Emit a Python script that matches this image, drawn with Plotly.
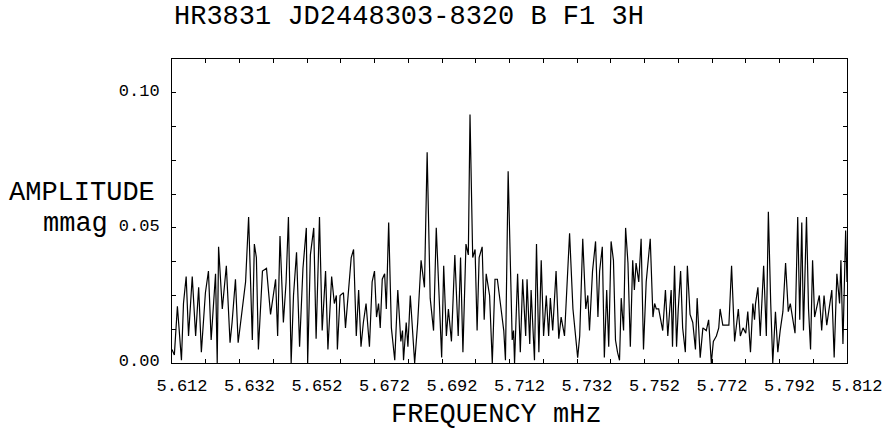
import plotly.graph_objects as go

# Frequency (mHz) and amplitude (mmag)
freq = [
    5.6120, 5.6127, 5.6136, 5.6148, 5.6154, 5.6162, 5.6169, 5.6180, 5.6190, 5.6199,
    5.6207, 5.6219, 5.6228, 5.6236, 5.6249, 5.6254, 5.6258, 5.6269, 5.6281, 5.6292,
    5.6298, 5.6308, 5.6316, 5.6326, 5.6338, 5.6347, 5.6358, 5.6364, 5.6370, 5.6376,
    5.6388, 5.6400, 5.6412, 5.6427, 5.6433, 5.6440, 5.6450, 5.6458, 5.6465, 5.6473,
    5.6480, 5.6489, 5.6498, 5.6508, 5.6518, 5.6522, 5.6530, 5.6540, 5.6547, 5.6557,
    5.6565, 5.6575, 5.6582, 5.6593, 5.6601, 5.6607, 5.6610, 5.6618, 5.6628, 5.6634,
    5.6651, 5.6658, 5.6666, 5.6673, 5.6680, 5.6687, 5.6695, 5.6705, 5.6713, 5.6720,
    5.6726, 5.6732, 5.6737, 5.6743, 5.6750, 5.6755, 5.6762, 5.6770, 5.6780, 5.6789,
    5.6798, 5.6803, 5.6806, 5.6814, 5.6819, 5.6826, 5.6839, 5.6848, 5.6858, 5.6868,
    5.6876, 5.6885, 5.6895, 5.6903, 5.6913, 5.6919, 5.6925, 5.6933, 5.6939, 5.6948,
    5.6958, 5.6968, 5.6975, 5.6982, 5.6991, 5.6998, 5.7003, 5.7011, 5.7018, 5.7024,
    5.7030, 5.7039, 5.7045, 5.7051, 5.7061, 5.7069, 5.7077, 5.7084, 5.7093, 5.7103,
    5.7108, 5.7116, 5.7128, 5.7132, 5.7135, 5.7144, 5.7152, 5.7159, 5.7168, 5.7172,
    5.7180, 5.7184, 5.7194, 5.7200, 5.7207, 5.7214, 5.7221, 5.7229, 5.7236, 5.7241,
    5.7248, 5.7258, 5.7266, 5.7273, 5.7283, 5.7298, 5.7308, 5.7316, 5.7322, 5.7328,
    5.7337, 5.7346, 5.7352, 5.7357, 5.7366, 5.7375, 5.7382, 5.7387, 5.7395, 5.7401,
    5.7408, 5.7414, 5.7421, 5.7428, 5.7434, 5.7440, 5.7446, 5.7451, 5.7458, 5.7464,
    5.7471, 5.7478, 5.7485, 5.7490, 5.7495, 5.7503, 5.7510, 5.7517, 5.7525, 5.7537,
    5.7545, 5.7550, 5.7555, 5.7562, 5.7574, 5.7582, 5.7589, 5.7599, 5.7603, 5.7609,
    5.7615, 5.7620, 5.7627, 5.7633, 5.7641, 5.7647, 5.7655, 5.7663, 5.7671, 5.7676,
    5.7685, 5.7693, 5.7703, 5.7710, 5.7718, 5.7724, 5.7733, 5.7740, 5.7744, 5.7752,
    5.7762, 5.7770, 5.7778, 5.7787, 5.7798, 5.7804, 5.7812, 5.7820, 5.7826, 5.7834,
    5.7841, 5.7846, 5.7849, 5.7856, 5.7863, 5.7873, 5.7881, 5.7887, 5.7894, 5.7900,
    5.7908, 5.7915, 5.7922, 5.7930, 5.7938, 5.7946, 5.7952, 5.7960, 5.7966, 5.7974,
    5.7980, 5.7986, 5.7991, 5.8000, 5.8006, 5.8012, 5.8018, 5.8024, 5.8030, 5.8038,
    5.8045, 5.8052, 5.8060, 5.8068, 5.8075, 5.8082, 5.8090, 5.8098, 5.8102, 5.8108,
    5.8116, 5.8120,
]
amplitude = [
    0.005, 0.003, 0.021, 0.001, 0.022, 0.032, 0.010, 0.032, 0.010, 0.028,
    0.004, 0.026, 0.034, 0.0085, 0.033, 0.000, 0.043, 0.020, 0.036, 0.0075,
    0.015, 0.031, 0.0075, 0.018, 0.030, 0.054, 0.0085, 0.044, 0.039, 0.005,
    0.034, 0.035, 0.018, 0.031, 0.010, 0.047, 0.015, 0.030, 0.054, 0.000,
    0.025, 0.041, 0.006, 0.035, 0.050, 0.000, 0.040, 0.050, 0.009, 0.054,
    0.012, 0.034, 0.005, 0.032, 0.022, 0.025, 0.005, 0.025, 0.026, 0.013,
    0.039, 0.042, 0.010, 0.027, 0.006, 0.015, 0.022, 0.006, 0.030, 0.034,
    0.017, 0.022, 0.013, 0.031, 0.033, 0.020, 0.052, 0.013, 0.001, 0.027,
    0.008, 0.012, 0.001, 0.015, 0.006, 0.025, 0.000, 0.015, 0.038, 0.028,
    0.078, 0.024, 0.012, 0.050, 0.020, 0.002, 0.036, 0.010, 0.020, 0.008,
    0.040, 0.010, 0.039, 0.004, 0.044, 0.040, 0.092, 0.039, 0.042, 0.012,
    0.039, 0.043, 0.016, 0.033, 0.025, 0.000, 0.031, 0.031, 0.022, 0.012,
    0.001, 0.071, 0.0085, 0.012, 0.000, 0.033, 0.004, 0.031, 0.010, 0.031,
    0.007, 0.027, 0.001, 0.044, 0.004, 0.038, 0.010, 0.025, 0.010, 0.024,
    0.012, 0.034, 0.009, 0.017, 0.010, 0.048, 0.020, 0.010, 0.002, 0.010,
    0.046, 0.020, 0.025, 0.012, 0.034, 0.045, 0.017, 0.034, 0.043, 0.002,
    0.027, 0.006, 0.045, 0.038, 0.0085, 0.004, 0.001, 0.024, 0.012, 0.050,
    0.037, 0.006, 0.038, 0.027, 0.037, 0.030, 0.046, 0.005, 0.030, 0.046,
    0.017, 0.022, 0.020, 0.020, 0.012, 0.027, 0.010, 0.027, 0.006, 0.036,
    0.006, 0.020, 0.034, 0.013, 0.004, 0.036, 0.018, 0.015, 0.005, 0.024,
    0.002, 0.013, 0.012, 0.016, 0.000, 0.008, 0.010, 0.013, 0.020, 0.014,
    0.014, 0.014, 0.036, 0.008, 0.020, 0.010, 0.013, 0.011, 0.019, 0.004,
    0.022, 0.016, 0.022, 0.028, 0.010, 0.036, 0.010, 0.056, 0.022, 0.000,
    0.019, 0.004, 0.012, 0.019, 0.037, 0.019, 0.022, 0.016, 0.011, 0.054,
    0.016, 0.052, 0.012, 0.054, 0.020, 0.005, 0.038, 0.017, 0.021, 0.025,
    0.012, 0.025, 0.014, 0.022, 0.027, 0.002, 0.033, 0.022, 0.038, 0.007,
    0.049, 0.030,
]

x_tick_vals = [5.612, 5.632, 5.652, 5.672, 5.692, 5.712, 5.732, 5.752, 5.772, 5.792, 5.812]
x_tick_text = ["5.612", "5.632", "5.652", "5.672", "5.692", "5.712", "5.732", "5.752", "5.772", "5.792", "5.812"]
y_tick_vals = [0.0, 0.05, 0.10]
y_tick_text = ["0.00", "0.05", "0.10"]

title_text = "HR3831 JD2448303-8320 B F1 3H"
y_title_1 = "AMPLITUDE"
y_title_2 = "mmag"
x_title = "FREQUENCY mHz"

FONT = "Liberation Mono"
BIG = 27
TICK = 17

fig = go.Figure()
fig.add_trace(go.Scatter(
    x=freq, y=amplitude, mode="lines",
    line=dict(color="black", width=1.2),
    hoverinfo="skip", showlegend=False,
))

axis_common = dict(
    showline=True, linecolor="black", linewidth=1, mirror="ticks",
    ticks="inside", tickcolor="black", ticklen=4, tickwidth=1,
    showgrid=False, zeroline=False, automargin=False,
    tickfont=dict(family=FONT, size=TICK, color="black"),
)

fig.update_xaxes(
    range=[5.612, 5.812], tickmode="array", tickvals=x_tick_vals, ticktext=x_tick_text,
    minor=dict(dtick=0.01, tick0=5.612, ticks="inside", ticklen=4, tickcolor="black", showgrid=False),
    ticklabelshift=10, ticklabelstandoff=7, ticklabeloverflow="allow",
    **axis_common,
)
fig.update_yaxes(
    range=[0, 0.1125], tickmode="array", tickvals=y_tick_vals, ticktext=y_tick_text,
    minor=dict(dtick=0.0125, tick0=0, ticks="inside", ticklen=4, tickcolor="black", showgrid=False),
    ticklabelshift=-3, ticklabelstandoff=8, ticklabeloverflow="allow",
    **axis_common,
)

annotations = [
    dict(text=title_text, xref="paper", yref="paper", x=0.0, y=1.138,
         xanchor="left", yanchor="middle", showarrow=False,
         font=dict(family=FONT, size=BIG, color="black")),
    dict(text=y_title_1, xref="paper", yref="paper", x=-0.022, y=0.5599,
         xanchor="right", yanchor="middle", showarrow=False,
         font=dict(family=FONT, size=BIG, color="black")),
    dict(text=y_title_2, xref="paper", yref="paper", x=-0.092, y=0.4572,
         xanchor="right", yanchor="middle", showarrow=False,
         font=dict(family=FONT, size=BIG, color="black")),
    dict(text=x_title, xref="paper", yref="paper", x=0.4807, y=-0.171,
         xanchor="center", yanchor="middle", showarrow=False,
         font=dict(family=FONT, size=BIG, color="black")),
]

fig.update_layout(
    width=882, height=437,
    margin=dict(l=172, r=35, t=59, b=74),
    paper_bgcolor="white", plot_bgcolor="white",
    annotations=annotations,
    showlegend=False,
)

fig.write_html("out.html")
